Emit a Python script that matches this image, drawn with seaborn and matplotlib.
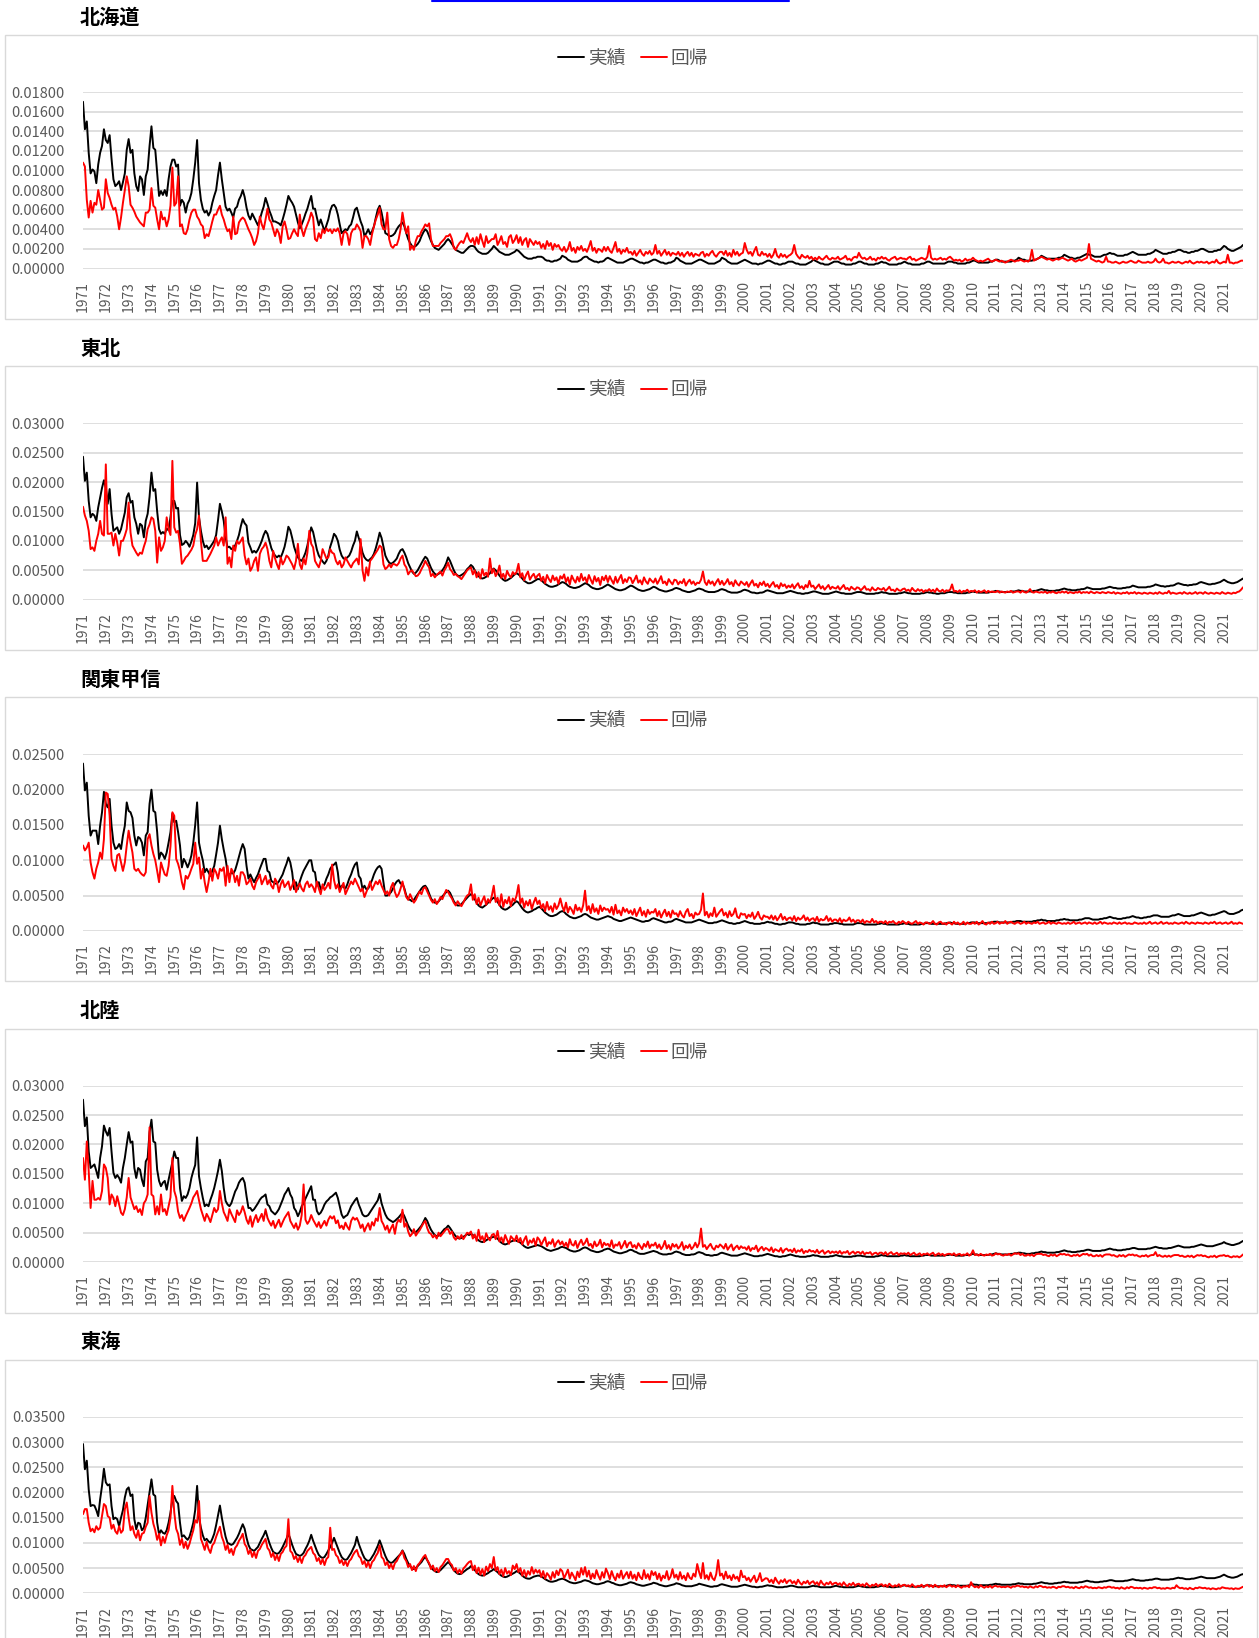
import numpy as np
import pandas as pd
import matplotlib
matplotlib.use("Agg")
import matplotlib.pyplot as plt
from matplotlib.lines import Line2D
from matplotlib.patches import Rectangle
from matplotlib.ticker import FuncFormatter
import seaborn as sns

# Monthly series, Jan 1971 - Nov 2021, one row per year, units of 1e-4
YEARS = list(range(1971, 2022))
REGIONS = ["北海道", "東北", "関東甲信", "北陸", "東海"]
Y_MAX = [0.018, 0.030, 0.025, 0.030, 0.035]
Y_STEP = [0.002, 0.005, 0.005, 0.005, 0.005]
SERIES = ["実績", "回帰"]
COLORS = {"実績": "black", "回帰": "red"}

hokkaido_actual = """
170 142 150 118 97 101 99 87 106 118 125 142
131 128 136 112 91 84 86 89 80 88 97 121
132 118 121 97 84 79 94 91 75 94 101 125
145 123 121 97 74 79 75 80 74 91 104 111
111 104 106 64 70 67 57 66 70 77 91 108
131 87 70 61 57 59 54 58 67 74 80 95
108 91 77 63 59 61 57 52 61 63 70 74
80 73 62 54 50 56 52 48 44 50 57 63
72 66 59 54 48 48 47 46 44 50 57 65
74 70 67 63 55 47 41 45 50 56 61 68
74 61 61 52 44 50 44 38 44 50 59 64
65 62 55 45 36 38 40 39 43 45 52 60
62 55 48 43 33 36 40 35 38 43 52 60
64 57 47 36 35 33 33 34 36 40 43 45
47 43 36 30 26 23 22 23 25 28 33 37
40 38 33 28 24 21 20 19 21 23 25 28
30 28 25 22 19 18 17 16 16 18 20 22
23 23 22 19 17 16 15 15 15 16 18 20
23 21 19 17 16 15 14 14 14 15 16 17
19 18 16 14 12 11 10 10 10 11 11 12
12 12 11 9 8 8 7 7 8 8 9 10
13 12 11 9 8 7 7 7 7 8 9 11
12 12 10 9 8 7 7 6 7 7 8 10
11 10 9 8 7 6 6 6 6 7 8 9
10 10 9 8 7 6 6 5 6 6 7 8
9 9 8 7 6 6 5 5 6 6 7 8
11 10 8 7 6 5 5 5 5 6 7 8
9 9 8 7 6 5 5 5 5 6 7 8
11 10 9 7 6 5 5 5 5 6 7 8
9 8 7 6 5 5 5 4 5 5 6 7
8 8 7 6 5 5 4 4 5 5 6 7
7 7 6 5 5 4 4 4 4 5 6 7
9 8 7 6 5 5 4 4 4 5 6 7
7 7 6 5 5 4 4 4 4 5 5 6
7 7 6 5 5 4 4 4 4 5 5 6
7 6 6 5 4 4 4 4 4 5 5 6
7 6 5 5 4 4 4 4 4 5 5 6
7 7 6 5 5 5 5 5 5 5 6 7
7 7 6 6 5 5 5 5 5 6 6 7
8 8 7 6 6 6 6 6 6 7 7 8
9 9 8 7 7 7 7 7 7 8 8 9
11 10 9 9 8 8 8 8 9 9 10 11
13 12 11 10 10 10 10 10 10 11 11 12
14 13 12 11 11 10 10 11 11 12 13 14
15 14 14 13 12 12 12 12 13 14 14 15
16 15 15 14 13 13 13 13 14 14 15 16
17 16 15 14 14 14 14 14 15 15 16 17
19 18 17 16 15 15 15 16 16 17 17 18
19 19 18 17 17 16 16 17 17 18 18 19
20 20 19 18 17 17 17 18 18 19 19 21
23 22 20 19 18 18 19 20 21 22 24
"""

hokkaido_fit = """
108 104 70 52 69 57 67 65 80 70 60 62
91 77 72 65 60 62 53 40 52 67 80 94
84 65 62 58 53 50 47 45 43 57 57 60
82 64 62 50 40 58 50 52 43 50 64 103
64 67 94 43 45 36 35 40 50 57 60 60
53 50 45 43 31 35 33 40 48 55 55 60
64 55 50 43 38 40 30 53 35 36 47 50
52 50 45 40 36 31 24 28 36 53 45 40
50 61 50 47 40 33 40 36 26 43 48 40
30 31 36 40 36 33 55 40 33 40 45 50
57 52 30 28 36 31 40 36 41 38 40 36
40 38 41 36 24 36 38 35 24 36 40 40
45 42 38 21 33 33 30 24 35 43 50 55
62 45 40 40 57 30 23 21 24 24 30 40
57 45 36 43 19 23 19 28 33 33 38 41
45 43 46 30 23 23 23 23 26 28 30 33
33 35 30 21 19 23 26 28 26 31 36 30
27 31 24 32 25 35 28 22 33 26 28 30
30 35 24 28 33 25 27 22 32 34 26 29
34 26 32 24 29 31 22 30 27 24 28 25
27 21 25 20 28 23 26 19 25 22 24 20
18 22 17 20 27 18 21 16 22 19 23 18
20 17 22 28 18 21 16 20 19 17 22 18
22 18 16 21 27 17 20 15 19 17 21 16
17 14 18 13 16 19 15 13 17 15 18 14
16 24 15 18 13 16 19 14 17 13 16 15
14 17 13 16 12 15 17 13 16 12 15 14
13 16 17 12 15 13 16 18 14 12 15 17
17 14 18 13 16 12 19 14 17 13 15 16
26 19 15 17 13 18 22 14 13 17 14 15
12 15 11 14 20 13 11 15 12 14 11 13
14 16 24 15 12 10 14 12 11 13 10 12
9 11 9 12 10 9 11 13 10 9 11 10
10 12 9 10 11 13 9 10 8 11 12 11
16 12 10 11 9 10 12 9 10 8 11 10
12 10 11 9 8 10 11 12 9 10 11 10
10 9 11 12 9 10 8 9 10 11 10 9
12 23 11 9 10 9 10 11 9 10 9 11
12 10 8 9 8 9 7 8 10 8 9 9
11 9 8 7 8 7 8 9 10 8 7 8
9 8 7 8 7 6 7 8 9 8 7 8
8 9 8 7 8 7 9 19 8 9 10 11
12 11 10 9 10 9 8 9 10 9 10 11
10 9 8 9 10 8 7 8 9 8 9 10
11 25 10 9 8 7 8 7 6 7 12 7
7 6 6 7 6 5 6 7 6 6 7 8
7 6 6 8 7 6 6 6 7 6 6 7
10 7 6 7 10 6 6 5 6 7 6 6
7 6 5 6 7 6 8 6 5 6 7 6
7 6 6 7 5 6 7 6 9 6 5 6
7 6 14 6 6 5 6 6 7 8 8
"""

tohoku_actual = """
243 202 216 168 140 146 143 134 157 174 190 203
190 163 188 146 117 120 123 112 120 134 148 174
181 165 168 140 129 112 129 126 106 134 146 175
216 185 188 150 120 112 115 112 121 118 140 168
168 155 156 110 93 95 100 96 90 99 110 130
199 140 117 100 89 92 86 90 95 100 110 135
163 150 134 106 89 90 86 88 92 100 110 125
137 130 126 97 89 80 83 80 85 92 100 110
117 112 100 88 80 75 72 75 72 80 90 105
124 118 105 90 80 72 68 66 72 80 92 108
123 115 100 85 75 70 65 61 66 75 90 100
112 108 100 85 75 70 69 72 75 82 92 100
116 105 95 80 72 68 66 69 72 78 88 100
114 105 90 75 68 63 61 63 66 70 78 84
86 80 72 62 55 48 44 46 50 56 62 68
73 70 62 54 48 44 42 44 46 50 55 62
72 66 58 50 44 41 40 42 44 47 52 55
59 56 50 45 40 37 36 37 39 42 45 50
53 50 46 41 37 34 32 33 35 37 40 43
45 43 40 36 32 30 28 28 29 31 33 35
35 33 30 27 25 23 22 22 23 24 26 28
30 29 27 24 22 21 20 20 21 22 24 26
28 27 25 22 20 19 18 18 19 20 22 24
26 24 22 20 18 17 16 16 17 18 20 22
24 23 21 19 17 16 15 15 16 17 18 20
22 21 19 17 16 15 14 14 15 16 17 19
20 19 18 16 15 14 13 13 14 15 16 18
19 18 17 15 14 13 13 13 13 14 15 17
18 17 16 14 13 12 12 12 12 13 14 16
17 16 15 13 12 12 11 11 12 12 13 15
16 15 14 13 12 11 11 11 11 12 13 14
15 14 13 12 11 11 10 10 11 11 12 13
14 14 13 12 11 10 10 10 10 11 12 13
14 13 12 11 11 10 10 10 10 11 12 13
13 13 12 11 10 10 10 10 10 11 11 12
13 12 12 11 10 10 10 10 10 11 11 12
13 12 11 11 10 10 10 10 10 11 11 12
13 12 12 11 11 10 10 11 11 11 12 13
13 13 12 12 11 11 11 11 11 12 12 13
14 13 13 12 12 12 12 12 12 13 13 14
15 14 14 13 13 13 13 13 14 14 14 15
16 15 15 14 14 14 14 14 15 15 16 17
18 17 16 16 15 15 15 15 16 16 17 18
19 18 17 17 16 16 16 17 17 18 18 19
21 20 19 18 18 18 18 18 19 19 20 21
22 21 20 20 19 19 19 20 20 21 21 22
24 23 22 21 21 21 21 21 22 22 23 24
26 25 24 23 23 22 23 23 24 24 25 27
28 27 26 25 25 24 25 25 26 26 27 29
30 29 28 27 26 26 27 27 28 29 30 32
34 32 30 29 28 28 29 30 32 34 36
"""

tohoku_fit = """
158 143 134 117 86 89 83 100 112 134 112 109
230 112 112 114 92 112 97 75 100 100 109 120
165 114 92 86 80 75 80 78 90 100 120 128
140 137 117 63 106 83 89 100 140 120 110 236
123 114 117 95 61 66 72 75 80 85 92 110
120 143 100 66 66 66 72 78 85 92 106 92
100 106 92 140 61 72 55 92 83 100 95 100
106 75 60 70 49 55 66 72 49 78 86 90
97 86 66 55 83 70 60 52 72 60 66 75
72 66 60 52 66 95 60 52 70 60 80 117
95 89 66 60 55 66 86 78 70 72 86 80
78 66 60 66 55 60 72 66 60 55 62 66
70 60 103 50 32 55 41 66 70 75 80 85
92 89 60 52 55 60 55 61 60 58 62 70
75 60 55 43 48 50 45 40 41 45 52 58
66 60 55 40 44 38 42 45 48 41 50 55
63 52 48 42 44 40 38 35 40 45 50 53
55 43 50 38 47 36 52 41 46 39 70 45
52 40 46 58 37 44 35 49 42 38 47 43
47 61 38 45 33 42 48 34 40 44 36 41
44 32 39 28 42 35 30 41 33 38 27 40
36 43 30 38 26 41 34 29 39 31 44 33
38 29 42 34 27 40 31 37 25 39 33 41
30 40 33 27 39 29 36 42 28 35 30 38
37 28 34 41 29 33 26 38 31 27 36 32
29 36 27 33 40 28 31 25 35 30 26 34
33 26 31 28 35 24 30 34 27 31 25 29
28 34 48 30 25 33 27 31 24 30 35 26
32 25 29 35 26 30 23 33 27 24 31 28
25 30 22 28 33 24 27 21 29 25 31 23
27 21 26 30 22 25 19 28 23 26 20 24
21 26 19 24 28 20 23 18 25 21 32 22
24 18 22 26 19 23 17 21 25 18 22 20
19 23 17 21 25 18 20 16 22 19 17 21
20 16 19 23 17 18 15 21 17 16 20 18
17 20 15 18 22 16 17 14 19 16 15 18
19 15 17 14 20 16 14 18 15 17 13 16
15 18 14 17 13 19 15 14 17 13 16 15
17 26 14 15 13 16 12 15 14 17 13 15
14 16 12 15 13 14 16 12 15 13 14 13
13 15 12 14 13 12 14 13 15 12 13 14
14 12 15 13 12 14 18 13 12 14 13 12
13 12 14 11 13 12 14 12 11 13 12 14
12 14 11 13 12 11 13 12 14 11 13 12
13 11 14 12 11 13 12 11 13 12 11 13
12 11 13 10 12 11 10 12 11 13 10 12
11 13 10 12 11 10 12 11 10 12 11 10
12 10 13 11 10 12 11 15 10 12 11 10
11 12 10 13 11 10 12 10 11 13 10 12
12 10 13 11 10 12 11 10 12 11 10 13
11 10 12 11 10 12 11 13 14 17 21
"""

kanto_actual = """
237 199 210 163 135 142 142 142 123 149 168 197
180 175 187 149 125 116 118 123 116 135 149 182
170 168 160 135 121 133 131 125 107 135 140 180
200 170 168 140 102 111 108 102 111 125 140 166
154 156 140 121 90 102 97 90 97 107 125 150
182 125 111 100 83 88 83 78 85 92 108 125
149 130 115 102 83 78 83 81 86 95 105 115
123 116 92 74 80 74 69 75 80 88 95 102
102 85 83 71 69 67 67 70 75 80 88 95
104 97 83 59 69 59 70 78 85 90 95 100
100 85 83 64 69 59 62 66 74 80 88 92
94 97 83 59 64 62 60 66 74 80 88 94
97 78 74 59 64 59 60 66 72 80 86 90
92 88 69 50 50 52 55 60 66 70 72 67
67 60 50 45 44 42 44 48 52 56 60 63
64 60 53 46 42 40 40 42 45 49 52 55
57 54 48 42 38 36 36 38 41 44 47 50
52 50 45 40 36 34 33 35 37 40 42 45
47 45 41 37 33 31 30 31 33 35 37 40
42 40 36 32 29 27 26 27 28 30 31 33
34 32 29 26 24 22 21 21 22 23 25 27
28 27 24 22 20 19 18 18 19 20 21 23
24 23 21 19 18 17 16 16 17 18 19 20
21 20 19 17 16 15 14 14 15 16 17 18
19 18 17 16 15 14 13 13 14 14 15 17
18 17 16 15 14 13 12 12 13 13 14 16
17 16 15 14 13 12 12 12 12 13 14 15
16 15 14 13 12 11 11 11 12 12 13 14
15 14 13 12 11 11 10 10 11 11 12 13
14 13 12 11 11 10 10 10 10 11 11 12
13 12 12 11 10 10 9 9 10 10 11 12
12 12 11 10 10 9 9 9 9 10 10 11
12 11 11 10 9 9 9 9 9 10 10 11
11 11 10 10 9 9 9 9 9 9 10 11
11 11 10 9 9 9 9 9 9 9 10 10
11 10 10 9 9 9 9 9 9 9 10 10
11 10 10 9 9 9 9 9 9 10 10 11
11 11 10 10 10 10 10 10 10 10 11 11
12 11 11 10 10 10 10 10 10 11 11 12
12 12 11 11 11 11 11 11 11 12 12 13
13 13 12 12 12 12 12 12 12 13 13 14
14 14 13 13 13 13 13 13 14 14 15 15
16 15 15 14 14 14 14 14 15 15 16 16
17 16 16 15 15 15 15 15 16 16 17 18
18 18 17 16 16 16 16 17 17 18 18 19
20 19 18 18 17 17 17 18 18 19 19 20
21 20 19 19 18 18 19 19 20 20 21 22
22 22 21 20 20 20 20 20 21 22 22 23
24 23 22 21 21 21 21 22 22 23 24 25
26 25 24 23 22 22 23 23 24 25 26 27
28 27 25 24 24 24 25 26 27 29 30
"""

kanto_fit = """
121 114 118 125 97 83 74 88 97 111 102 130
196 194 163 102 92 85 107 109 97 85 97 121
142 125 111 88 85 88 83 80 78 83 130 137
121 109 100 85 69 97 88 80 78 92 120 168
163 102 95 85 69 59 78 74 80 88 95 125
95 104 74 88 69 55 69 88 71 88 83 74
88 85 90 64 92 69 88 83 69 78 64 83
83 78 66 69 74 64 59 69 74 80 66 72
78 66 72 64 60 74 69 55 66 72 62 66
70 58 64 72 55 62 67 60 56 66 70 62
66 62 55 70 60 52 66 58 62 68 60 94
72 60 66 55 62 68 52 58 64 70 66 74
68 62 56 60 48 55 62 70 58 64 70 66
72 64 58 52 56 50 62 68 55 48 52 60
70 58 48 44 52 46 40 44 50 56 52 60
62 56 50 44 40 45 38 42 48 45 52 58
55 50 46 40 36 42 38 35 40 46 50 52
66 44 52 38 47 36 43 49 37 45 40 50
64 41 47 36 52 34 44 39 48 35 46 42
50 65 39 46 33 42 36 44 31 40 47 38
43 32 38 28 41 30 35 27 39 31 36 46
35 28 40 26 34 30 24 37 29 33 27 36
57 29 35 25 38 27 32 24 36 28 33 30
31 26 34 23 37 25 29 22 33 27 31 25
29 23 31 21 27 33 22 28 20 30 24 27
26 31 21 28 19 25 30 21 27 19 29 24
25 20 28 22 19 27 31 21 24 18 26 23
24 30 53 22 27 19 25 21 33 20 24 28
31 22 26 19 28 21 24 32 20 18 25 23
24 18 23 20 26 17 21 27 19 16 22 20
20 17 22 16 21 15 19 24 16 20 15 18
19 15 21 14 19 16 18 22 15 19 14 17
18 14 20 13 17 15 16 21 14 18 13 16
16 13 18 12 16 14 15 19 13 16 12 15
15 12 16 11 14 13 12 17 12 14 11 13
13 11 14 10 13 12 14 11 10 13 11 14
12 10 13 11 10 12 14 10 12 11 9 12
12 10 11 14 10 9 12 13 10 11 9 12
11 9 13 10 12 9 10 13 9 12 10 10
12 10 13 9 11 14 10 9 12 10 13 10
11 13 10 12 11 14 10 12 13 11 10 12
12 10 11 13 10 12 11 10 12 11 13 10
11 12 10 11 13 10 12 11 10 12 11 10
11 10 12 10 11 13 10 11 12 10 11 12
10 12 11 10 12 10 11 13 10 12 11 10
11 10 12 11 10 12 10 11 12 10 11 10
10 12 11 10 11 10 12 10 11 13 10 11
12 10 11 13 10 11 12 10 11 10 12 11
10 11 12 10 13 11 10 12 11 10 12 11
11 10 12 11 10 12 11 13 10 11 12 10
11 12 10 11 13 10 11 10 12 11 10
"""

hokuriku_actual = """
276 231 246 188 160 163 166 155 143 177 197 232
222 215 228 188 152 143 148 143 135 160 177 200
221 203 205 160 143 160 157 140 129 171 177 221
242 205 203 157 138 129 135 138 123 140 155 170
188 177 177 126 104 112 109 115 126 143 155 165
212 146 126 109 95 98 95 106 115 126 140 155
174 155 126 104 98 95 100 110 120 126 135 140
143 135 112 92 92 87 90 95 100 106 110 112
115 98 95 87 84 81 85 90 98 106 115 120
126 115 109 92 87 78 85 95 100 108 115 122
129 106 106 87 81 84 90 98 103 106 110 112
115 118 109 95 81 75 78 80 87 95 100 105
109 98 90 81 78 78 80 85 90 95 100 105
116 100 90 81 75 72 70 68 70 73 76 80
84 78 70 62 56 52 50 51 54 58 62 68
75 70 62 55 50 46 44 45 48 52 56 58
62 58 53 48 44 41 40 41 43 45 48 46
48 46 43 40 37 35 34 35 37 39 41 42
43 42 40 36 33 31 30 31 33 35 36 38
36 35 33 30 27 25 24 25 26 27 28 29
28 27 25 23 21 20 19 20 21 22 23 25
26 25 24 22 20 19 18 18 19 20 22 24
25 24 22 20 19 18 17 17 18 19 21 22
23 22 20 18 17 16 15 15 16 17 18 20
21 20 18 17 15 14 14 14 15 16 17 18
19 18 17 15 14 13 13 13 14 14 15 17
18 17 16 14 13 12 12 12 13 13 14 16
17 16 15 13 12 12 11 11 12 12 13 15
16 15 14 13 12 11 11 11 11 12 13 14
15 14 13 12 11 10 10 10 11 11 12 13
14 13 12 11 10 10 9 9 10 10 11 12
13 12 11 10 10 9 9 9 9 10 10 11
12 11 11 10 9 9 9 9 9 10 10 11
12 11 10 10 9 9 9 9 9 10 10 11
11 11 10 10 9 9 9 9 9 10 10 11
12 11 11 10 10 10 10 10 10 10 11 11
12 11 11 10 10 10 10 10 10 11 11 12
12 12 11 11 11 11 11 11 11 11 12 12
13 12 12 11 11 11 11 11 12 12 12 13
14 13 13 12 12 12 12 12 12 13 13 14
15 14 14 13 13 13 13 13 14 14 15 15
16 16 15 15 14 14 14 15 15 16 16 17
18 17 17 16 16 16 16 16 17 17 18 19
20 19 18 18 17 17 17 18 18 19 19 20
21 21 20 19 19 19 19 19 20 20 21 22
23 22 21 21 20 20 20 21 21 22 22 23
24 24 23 22 22 22 22 22 23 23 24 25
26 25 24 24 23 23 23 24 24 25 26 27
28 27 26 25 25 25 25 26 26 27 28 29
30 29 28 27 27 27 27 28 29 30 31 32
34 32 31 30 29 29 30 31 32 34 36
"""

hokuriku_fit = """
177 140 205 155 92 138 106 106 109 106 121 166
160 143 98 115 109 95 112 98 84 80 90 110
143 110 100 90 95 85 90 80 100 105 115 229
115 112 81 95 81 115 86 90 80 95 110 177
121 110 86 75 80 70 78 85 92 100 110 115
121 105 90 80 70 82 76 68 80 92 85 90
121 100 85 78 70 90 82 75 68 88 80 85
95 85 72 65 78 60 72 80 68 75 82 70
90 75 68 62 70 58 65 72 60 68 75 80
85 70 64 58 66 55 62 80 132 72 65 70
80 72 66 60 68 58 64 70 62 72 78 74
78 66 71 58 62 56 67 60 55 70 76 72
75 68 58 64 52 60 66 55 68 62 74 70
92 70 64 55 62 50 58 64 48 66 72 68
89 60 66 52 44 48 56 45 50 54 60 66
70 58 50 48 42 46 40 50 44 48 52 56
56 48 52 42 38 44 40 46 39 44 50 48
52 40 47 36 55 38 44 34 49 41 37 46
48 39 53 35 42 33 46 38 31 44 40 36
45 34 41 30 38 44 29 37 33 40 28 42
38 29 36 42 27 34 31 39 26 33 37 30
35 27 33 25 39 30 28 36 24 32 38 29
33 40 28 31 24 35 27 30 38 25 33 29
31 26 37 24 30 28 34 23 29 36 25 32
34 25 29 23 32 27 22 31 26 35 24 30
28 33 24 30 22 27 36 23 29 21 31 26
30 23 27 34 21 28 24 30 22 26 33 25
32 57 26 29 22 27 31 24 21 28 25 30
27 23 31 21 26 30 20 25 28 22 27 24
25 21 27 19 24 22 28 18 23 26 20 24
22 19 25 17 22 20 18 24 16 21 23 19
21 17 23 16 20 18 22 15 19 17 21 18
19 16 21 15 18 20 14 17 19 15 18 16
18 15 19 14 17 16 19 13 16 18 14 17
17 14 18 13 16 15 17 12 15 16 13 16
16 13 17 12 15 17 13 14 16 12 15 14
15 13 16 12 14 16 12 13 15 11 14 13
15 12 14 16 11 13 15 12 14 11 13 14
14 12 15 11 13 14 11 13 12 15 11 13
20 12 13 11 14 12 11 13 12 14 11 12
15 13 14 12 11 13 12 14 11 13 15 14
15 12 14 11 11 13 11 13 10 13 14 14
14 12 13 11 10 13 11 13 10 12 14 13
14 12 13 11 10 12 11 13 10 12 14 13
14 11 13 10 10 12 10 12 9 12 13 13
13 11 12 10 9 12 10 12 9 11 13 12
13 11 12 10 9 11 10 12 9 11 12 12
17 10 12 10 9 11 9 11 9 11 12 12
12 10 11 9 9 11 9 11 8 10 12 11
12 10 11 9 8 10 9 11 8 10 11 11
12 10 11 9 8 10 9 10 8 10 13
"""

tokai_actual = """
296 246 263 206 173 175 174 165 153 186 213 247
220 214 216 173 147 150 147 133 150 165 190 206
210 193 196 147 127 140 138 125 130 150 175 200
226 196 193 140 117 125 120 118 125 140 160 185
193 183 178 140 112 115 110 106 112 125 140 165
213 150 130 115 105 108 103 100 108 118 135 155
174 150 130 112 100 98 96 98 104 110 118 128
137 128 110 96 88 86 84 88 92 100 108 115
124 112 100 90 82 80 78 80 85 92 100 108
118 108 96 86 78 76 74 76 80 88 95 104
116 104 94 84 76 72 70 72 78 85 92 100
110 100 90 80 72 68 66 68 74 80 88 96
112 98 88 78 70 66 64 66 72 78 86 94
105 95 84 74 66 62 60 62 66 70 74 78
85 78 68 60 54 50 48 50 54 58 62 68
72 66 58 52 47 44 42 43 46 50 54 58
62 58 52 46 42 39 38 39 42 45 48 50
54 51 46 42 38 36 35 36 38 40 43 45
48 45 42 38 35 33 32 33 35 37 39 41
44 42 39 35 32 30 29 29 31 33 34 35
35 33 31 28 26 24 23 23 24 25 27 28
29 28 26 24 22 21 20 20 21 22 23 25
26 25 24 22 20 19 18 18 19 20 21 23
24 23 21 20 18 17 16 16 17 18 19 21
22 21 20 18 17 16 15 15 16 17 18 19
21 20 19 17 16 15 14 14 15 16 17 18
20 19 18 16 15 14 14 14 14 15 16 17
19 18 17 16 15 14 13 13 14 14 15 17
18 17 16 15 14 13 13 13 13 14 15 16
17 16 15 14 13 13 12 12 13 13 14 15
16 15 15 14 13 12 12 12 12 13 13 14
15 15 14 13 12 12 12 12 12 12 13 14
15 14 14 13 12 12 12 12 12 12 13 14
15 14 13 13 12 12 12 12 12 12 13 14
15 14 13 13 12 12 12 12 12 13 13 14
15 14 14 13 13 12 12 12 13 13 14 15
16 15 14 14 13 13 13 13 13 14 14 15
16 16 15 14 14 14 14 14 14 14 15 16
17 16 16 15 15 15 15 15 15 15 16 17
18 17 17 16 16 16 16 16 16 17 17 18
19 18 18 17 17 17 17 17 17 18 18 19
20 19 19 18 18 18 18 18 19 19 20 21
22 21 20 20 19 19 19 20 20 21 21 22
23 22 22 21 21 21 21 21 22 22 23 24
25 24 23 23 22 22 22 23 23 24 24 25
26 26 25 24 24 24 24 24 25 25 26 27
28 27 26 26 25 25 25 26 26 27 27 28
29 29 28 27 27 27 27 27 28 28 29 30
31 30 30 29 28 28 28 29 29 30 31 32
33 32 31 30 30 30 30 30 31 32 33 35
37 35 33 32 31 31 32 33 35 37 38
"""

tokai_fit = """
157 167 167 140 123 128 121 133 126 130 153 177
173 153 150 128 136 123 118 133 120 125 167 180
150 125 133 118 110 125 105 118 120 132 140 193
160 138 125 106 118 95 112 100 115 125 150 213
160 128 118 96 108 90 102 88 98 112 125 145
140 183 108 98 86 102 88 80 95 100 112 122
132 112 102 86 96 80 88 76 90 95 104 110
118 98 92 78 86 72 82 70 84 88 96 102
108 90 85 72 80 66 76 64 78 82 90 94
147 84 80 68 74 62 72 60 72 76 84 88
92 80 76 64 70 58 68 56 68 72 130 86
88 76 72 60 66 56 64 54 64 68 76 82
86 74 70 58 64 52 62 50 62 66 74 80
95 72 68 56 62 50 58 48 60 64 72 78
84 70 64 52 58 46 54 44 56 60 66 72
76 66 60 48 55 44 50 42 52 56 62 68
68 60 56 45 50 40 47 39 49 53 58 62
64 46 55 40 51 37 48 35 53 44 58 50
72 45 52 38 47 34 50 39 44 36 55 48
58 42 50 35 46 33 44 37 52 39 47 41
46 32 44 29 40 35 27 42 31 45 36 48
44 30 38 47 29 41 34 26 43 32 50 37
52 33 45 28 39 30 46 35 27 42 31 49
40 28 44 33 26 39 31 45 29 36 42 30
43 29 37 26 41 32 28 46 30 38 27 44
36 42 28 39 25 35 30 44 27 33 48 31
37 27 42 29 35 26 40 31 28 39 33 58
42 30 60 29 36 27 41 30 26 38 66 35
39 28 43 30 35 26 37 29 33 24 45 32
34 26 31 23 29 35 22 28 40 24 27 30
29 22 27 20 31 24 19 26 22 28 20 25
26 20 24 18 27 21 17 23 20 25 18 22
24 18 22 16 25 19 16 21 18 23 17 20
21 17 20 15 22 17 14 19 16 21 15 18
19 15 18 14 20 16 13 17 15 19 14 17
18 14 17 13 19 15 13 16 14 18 13 16
17 14 16 13 18 14 12 15 14 17 12 15
17 13 16 12 17 14 12 15 13 16 12 15
16 13 15 12 16 13 11 14 13 15 12 22
15 12 14 11 16 13 11 14 12 15 11 14
15 13 14 12 13 12 14 13 11 14 13 15
15 13 14 12 13 11 14 12 11 14 12 15
14 12 13 11 12 11 13 12 10 13 12 14
14 12 13 11 12 10 13 11 10 13 11 14
13 11 12 10 11 10 12 11 10 12 11 13
13 11 12 10 11 9 12 10 9 12 10 13
12 10 11 10 11 9 11 10 9 11 10 12
12 10 11 9 10 9 11 10 9 11 10 16
12 10 11 9 10 8 11 9 8 11 10 12
11 10 11 9 10 8 10 9 8 10 9 12
11 10 10 9 10 8 10 9 9 11 13
"""

ACTUAL = [hokkaido_actual, tohoku_actual, kanto_actual, hokuriku_actual, tokai_actual]
FITTED = [hokkaido_fit, tohoku_fit, kanto_fit, hokuriku_fit, tokai_fit]


def to_values(text):
    return np.array(text.split(), dtype=float) / 1e4


sns.set_style("white")
plt.rcParams["font.family"] = ["Noto Sans CJK JP", "DejaVu Sans"]

W, H = 1259, 1638
PANEL_H = 331.2
GRAY_TEXT = "#595959"
GRID = "#d9d9d9"
LINE_W = 1.4

fig = plt.figure(figsize=(W / 100, H / 100), dpi=100)


def fx(px):
    return px / W


def fy(py):
    return 1 - py / H


# link underline at the very top of the sheet
fig.add_artist(Line2D([fx(432), fx(789)], [fy(1), fy(1)], color="#0000ff",
                      lw=1.5, transform=fig.transFigure))

for i, region in enumerate(REGIONS):
    oy = i * PANEL_H
    actual = to_values(ACTUAL[i])
    fitted = to_values(FITTED[i])
    n = max(len(actual), len(fitted))

    # chart frame
    fig.add_artist(Rectangle((fx(5), fy(oy + 319)), fx(1252), (319 - 35) / H,
                             transform=fig.transFigure, fill=False,
                             edgecolor=GRID, lw=1.0))
    fig.text(fx(80), fy(oy + 17), region, fontsize=14.5, fontweight="bold",
             va="center", ha="left", color="black")

    ax = fig.add_axes([fx(83), fy(oy + 268.5), fx(1160), 176.5 / H])
    df = pd.concat([
        pd.DataFrame({"month": np.arange(len(actual)), "value": actual, "series": "実績"}),
        pd.DataFrame({"month": np.arange(len(fitted)), "value": fitted, "series": "回帰"}),
    ], ignore_index=True)
    sns.lineplot(data=df, x="month", y="value", hue="series", hue_order=SERIES,
                 palette=COLORS, estimator=None, linewidth=LINE_W, ax=ax,
                 legend=False)

    ymax, step = Y_MAX[i], Y_STEP[i]
    ticks_x = np.arange(0, n, 12)
    ax.set_xlim(0, n - 1)
    ax.set_ylim(0, ymax)
    ax.set_yticks(np.arange(0, ymax + step / 2, step))
    ax.yaxis.set_major_formatter(FuncFormatter(lambda v, p: f"{v:.5f}"))
    ax.set_xticks(ticks_x)
    ax.set_xticklabels([str(y) for y in YEARS][:len(ticks_x)], rotation=90)
    ax.grid(axis="y", color=GRID, lw=1.2)
    ax.grid(axis="x", visible=False)
    ax.set_axisbelow(True)
    for s in ax.spines.values():
        s.set_visible(False)
    ax.tick_params(axis="both", length=0, colors=GRAY_TEXT)
    ax.tick_params(axis="y", pad=13, labelsize=10.5)
    ax.tick_params(axis="x", pad=9, labelsize=10)
    ax.set_xlabel("")
    ax.set_ylabel("")

    handles = [Line2D([], [], color=COLORS[s], lw=LINE_W) for s in SERIES]
    fig.legend(handles, SERIES, loc="center",
               bbox_to_anchor=(fx(633), fy(oy + 58.5)),
               bbox_transform=fig.transFigure, ncol=2, frameon=False,
               fontsize=13.5, handlelength=1.4, handletextpad=0.2,
               columnspacing=0.8, labelcolor=GRAY_TEXT, borderaxespad=0)

fig.savefig("out.png", dpi=100)
